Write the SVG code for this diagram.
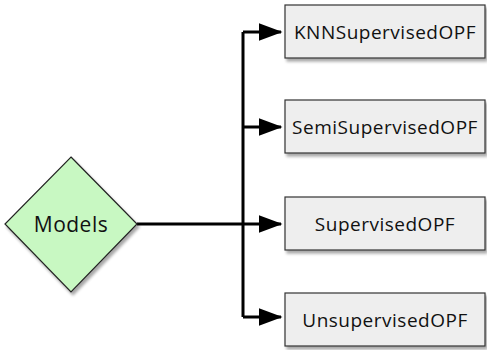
<svg xmlns="http://www.w3.org/2000/svg" width="487" height="350" viewBox="0 0 487 350">
<style>
.box{fill:#eeeeee;stroke:#333333;stroke-width:1.2;filter:url(#sh)}
.dia{fill:#c8f8c2;stroke:#222222;stroke-width:1.2;filter:url(#sh)}
.t{font-family:"Open Sans","Noto Sans",sans-serif;font-size:19px;letter-spacing:0.5px;fill:#111111;text-anchor:middle;dominant-baseline:central}
.tm{font-size:21px}
.c{fill:none;stroke:#000000;stroke-width:3;stroke-linejoin:miter}
</style>
<defs>
<filter id="sh" x="-20%" y="-20%" width="150%" height="160%">
<feGaussianBlur in="SourceAlpha" stdDeviation="1.5"/>
<feOffset dx="2" dy="3" result="b"/>
<feComponentTransfer><feFuncA type="linear" slope="0.35"/></feComponentTransfer>
<feMerge><feMergeNode/><feMergeNode in="SourceGraphic"/></feMerge>
</filter>
<marker id="ah" markerWidth="8" markerHeight="6" refX="7.5" refY="3" orient="auto" markerUnits="strokeWidth">
<path d="M0,0 L8,3 L0,6 Z" fill="#000"/>
</marker>
</defs>
<g id="connectors">
<path class="c" d="M137,224 L281,224" marker-end="url(#ah)"/>
<path class="c" d="M243,32 L243,317"/>
<path class="c" d="M243,32 L281,32" marker-end="url(#ah)"/>
<path class="c" d="M243,127 L281,127" marker-end="url(#ah)"/>
<path class="c" d="M243,317 L281,317" marker-end="url(#ah)"/>
</g>
<g id="models">
<polygon class="dia" points="71,157 137,224 71,292 5,224"/>
<text class="t tm" x="71" y="224">Models</text>
</g>
<g id="knn">
<rect class="box" x="285" y="5" width="200" height="53"/>
<text class="t" x="385" y="31.5">KNNSupervisedOPF</text>
</g>
<g id="semi">
<rect class="box" x="285" y="100" width="200" height="53"/>
<text class="t" x="385" y="126.5">SemiSupervisedOPF</text>
</g>
<g id="sup">
<rect class="box" x="285" y="197" width="200" height="53"/>
<text class="t" x="385" y="223.5">SupervisedOPF</text>
</g>
<g id="unsup">
<rect class="box" x="285" y="293" width="200" height="53"/>
<text class="t" x="385" y="319.5">UnsupervisedOPF</text>
</g>
</svg>
